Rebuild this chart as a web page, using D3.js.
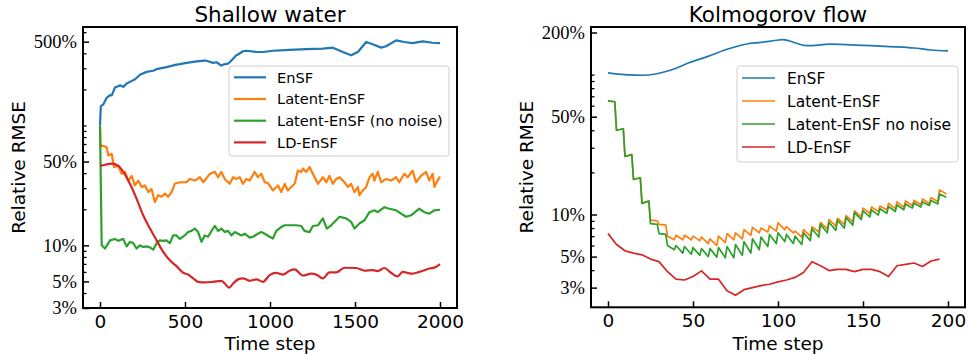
<!DOCTYPE html>
<html>
<head>
<meta charset="utf-8">
<script src="https://cdn.jsdelivr.net/npm/d3@7"></script>
<style>
  body { margin: 0; background: #fff; }
  svg { display: block; }
</style>
</head>
<body>
<div id="chart"></div>
<script>
// ---- data (relative RMSE in %) ----
var colors = ["#1f77b4", "#ff7f0e", "#2ca02c", "#d62728"];

// Shallow water
var swEnsfSteps = [0, 5, 20, 39, 59, 69, 88, 117, 137, 157, 196, 205, 235, 274, 313, 333, 391, 450, 470, 509, 568, 616, 626, 665, 685, 714, 724, 753, 763, 802, 812, 841, 861, 920, 959, 1017, 1115, 1213, 1311, 1370, 1428, 1477, 1517, 1566, 1604, 1654, 1683, 1742, 1790, 1839, 1898, 1956, 2000];
var swEnsfErr = [100, 145, 150, 170, 179, 178, 207, 216, 210, 224, 239, 242, 265, 280, 286, 295, 307, 322, 325, 333, 343, 348, 347, 333, 337, 316, 322, 328, 337, 385, 391, 416, 420, 410, 410, 420, 427, 433, 438, 446, 410, 385, 410, 497, 476, 446, 458, 513, 497, 487, 503, 490, 487];

var swLatentSteps = [0, 3, 10, 39, 49, 69, 82, 108, 127, 147, 166, 186, 205, 225, 245, 264, 284, 303, 323, 342, 362, 382, 401, 421, 440, 470, 509, 528, 558, 587, 607, 646, 675, 695, 714, 734, 763, 783, 802, 822, 841, 861, 881, 910, 929, 949, 969, 988, 1017, 1047, 1066, 1086, 1105, 1125, 1145, 1164, 1184, 1194, 1213, 1233, 1252, 1282, 1311, 1331, 1350, 1370, 1389, 1409, 1438, 1458, 1477, 1497, 1517, 1526, 1546, 1566, 1585, 1605, 1614, 1634, 1654, 1683, 1712, 1742, 1761, 1790, 1810, 1839, 1859, 1888, 1918, 1937, 1957, 1967, 1986, 2000];
var swLatentErr = [100, 66, 68, 66, 56, 58, 45, 46, 39.5, 41, 34.7, 38, 31.6, 34.7, 30.7, 31.6, 27.8, 29.5, 23, 26.2, 25.4, 27, 25.4, 27.8, 32.6, 33.6, 33.6, 35.8, 34.7, 37, 33.6, 39.5, 41, 37, 41, 35.8, 32.6, 37, 35.8, 37, 32.6, 35.8, 34.7, 41, 37, 39.5, 33.6, 33, 28.7, 31.6, 27.8, 32.6, 28.7, 30.7, 32.6, 42, 41, 43.7, 41, 45, 39.5, 32.6, 37, 33.6, 38, 32.6, 35.8, 37, 33.6, 30.7, 32.6, 27.8, 30.7, 26.2, 28.7, 30.7, 37, 39.5, 34.7, 41, 33.6, 35.8, 34.7, 37, 33.6, 39.5, 37, 42, 33.6, 38, 41, 34.7, 39.5, 30.7, 34.7, 37.4];

var swNoNoiseSteps = [0, 10, 29, 59, 88, 108, 127, 137, 157, 176, 196, 215, 235, 254, 274, 294, 313, 333, 352, 372, 391, 411, 430, 450, 470, 499, 518, 538, 558, 577, 597, 616, 636, 656, 675, 695, 714, 734, 753, 773, 793, 812, 832, 851, 881, 900, 929, 949, 969, 998, 1017, 1037, 1066, 1086, 1115, 1155, 1184, 1203, 1233, 1252, 1282, 1311, 1334, 1360, 1389, 1409, 1448, 1477, 1497, 1526, 1556, 1585, 1614, 1634, 1673, 1702, 1742, 1771, 1800, 1830, 1878, 1908, 1937, 1967, 2000];
var swNoNoiseErr = [100, 10.0, 9.4, 11.0, 11.3, 10.9, 11.2, 11.3, 9.8, 10.7, 10.4, 9.4, 10.0, 9.7, 9.8, 9.6, 9.2, 10.4, 11.0, 10.9, 11.0, 10.4, 12.1, 12.1, 11.3, 12.1, 12.9, 13.2, 13.8, 12.9, 10.7, 12.1, 11.8, 13.2, 14.5, 13.2, 13.8, 12.9, 13.2, 12.1, 12.9, 12.5, 12.1, 12.5, 11.6, 11.8, 12.5, 12.9, 12.5, 11.8, 11.4, 13.2, 14.2, 14.7, 14.7, 14.7, 14.5, 13.2, 12.9, 14.5, 14.7, 16.8, 13.8, 14.7, 16.2, 17.3, 16.8, 15.7, 13.8, 15.2, 16.2, 18.9, 19.6, 18.9, 20.8, 20.2, 19.6, 18.4, 17.3, 17.8, 20.2, 18.9, 18.4, 19.6, 19.8];

var swLdSteps = [0, 29, 69, 108, 137, 176, 215, 254, 294, 333, 372, 411, 450, 489, 518, 548, 577, 616, 665, 714, 734, 759, 783, 812, 841, 881, 920, 959, 998, 1037, 1076, 1115, 1145, 1194, 1243, 1272, 1311, 1350, 1389, 1438, 1507, 1556, 1605, 1634, 1673, 1712, 1751, 1780, 1830, 1878, 1937, 1976, 2000];
var swLdErr = [46, 47, 48, 46, 41, 32.6, 24.5, 17.8, 13.8, 11, 8.8, 7.5, 6.7, 5.9, 5.7, 5.3, 4.96, 4.9, 4.96, 5.06, 4.8, 4.43, 4.8, 5.2, 5.3, 5.06, 5.2, 4.96, 5.65, 5.9, 5.7, 6.14, 6.3, 5.6, 5.8, 5.7, 5.3, 5.95, 5.95, 6.5, 6.47, 6.14, 6.2, 6.1, 6.47, 5.9, 5.5, 6.0, 5.8, 6.0, 6.4, 6.6, 6.96];

// Kolmogorov flow
var kfEnsfSteps = [0, 10, 13, 20, 28, 40, 48, 58, 71, 83, 90, 99, 103, 110, 115, 120, 130, 140, 150, 160, 170, 180, 190, 200];
var kfEnsfErr = [103, 100, 99.5, 99, 101, 111, 122, 134, 153, 167, 170, 176, 178, 169, 162, 161, 165, 164, 162, 160, 158, 155, 150, 148];

var kfSawSteps = [0, 4, 5, 9, 10, 14, 15, 19, 20, 24, 25, 29, 30, 34, 35, 39, 40, 44, 45, 49, 50, 54, 55, 59, 60, 64, 65, 69, 70, 74, 75, 79, 80, 84, 85, 89, 90, 94, 95, 99, 100, 104, 105, 109, 110, 114, 115, 119, 120, 124, 125, 129, 130, 134, 135, 139, 140, 144, 145, 149, 150, 154, 155, 159, 160, 164, 165, 169, 170, 174, 175, 179, 180, 184, 185, 189, 190, 194, 195, 199];
var kfLatentErr = [65, 64, 40, 41, 26, 26.8, 17.8, 18.3, 12, 12.5, 9.1, 9.0, 8.5, 8.4, 7.0, 6.6, 7.1, 6.6, 7.1, 6.6, 7.0, 6.5, 6.9, 6.2, 6.7, 6.0, 7.0, 6.3, 7.3, 6.6, 7.4, 6.7, 7.8, 7.1, 8.1, 7.4, 8.0, 7.5, 8.3, 7.6, 8.7, 7.8, 8.2, 7.4, 7.6, 6.9, 7.8, 7.0, 8.2, 7.5, 8.8, 7.9, 9.2, 8.3, 9.4, 8.5, 9.8, 8.9, 10.6, 9.6, 11.1, 10.2, 11.3, 10.5, 11.5, 10.8, 12.0, 11.0, 12.3, 11.3, 12.5, 11.6, 12.6, 11.8, 12.9, 12.0, 13.2, 12.4, 15.0, 14.0];
var kfNoNoiseErr = [65, 64, 40, 41, 26, 26.8, 17.8, 18.3, 12, 12.5, 8.6, 8.5, 7.3, 7.2, 6.0, 5.6, 6.0, 5.3, 5.9, 5.2, 5.8, 5.1, 5.7, 5.0, 5.7, 4.95, 5.8, 4.9, 5.9, 4.9, 6.1, 5.1, 6.4, 5.3, 6.7, 5.6, 6.9, 5.9, 7.2, 6.2, 7.4, 6.4, 7.2, 6.2, 7.0, 6.1, 7.4, 6.5, 7.9, 6.9, 8.5, 7.4, 8.8, 7.7, 9.1, 8.0, 9.5, 8.4, 10.3, 9.2, 10.6, 9.6, 10.8, 9.9, 11.0, 10.2, 11.4, 10.5, 11.7, 10.8, 11.9, 11.1, 12.1, 11.3, 12.3, 11.6, 12.6, 11.9, 14.0, 13.3];

var kfLdSteps = [0, 5, 10, 15, 20, 25, 30, 35, 40, 45, 50, 55, 60, 65, 70, 75, 80, 85, 90, 95, 100, 105, 110, 115, 120, 125, 130, 135, 140, 145, 150, 155, 160, 165, 170, 175, 180, 185, 190, 195];
var kfLdErr = [7.3, 6.1, 5.5, 5.3, 5.15, 4.8, 4.6, 3.9, 3.45, 3.4, 3.6, 3.95, 3.45, 3.45, 2.85, 2.65, 2.9, 3.0, 3.1, 3.17, 3.3, 3.4, 3.55, 3.85, 4.6, 4.3, 3.97, 4.05, 4.05, 3.9, 4.05, 4.05, 3.9, 3.6, 4.3, 4.4, 4.5, 4.25, 4.65, 4.8];

var swLabels = ["EnSF", "Latent-EnSF", "Latent-EnSF (no noise)", "LD-EnSF"];
var kfLabels = ["EnSF", "Latent-EnSF", "Latent-EnSF no noise", "LD-EnSF"];
var swXTicks = [0, 500, 1000, 1500, 2000];
var kfXTicks = [0, 50, 100, 150, 200];
var swYTicks = [3, 5, 10, 50, 500];
var kfYTicks = [3, 5, 10, 50, 200];

function zip(xs, ys) {
    return xs.map(function (x, i) { return { x: x, y: ys[i] }; });
}

var svg = d3.select("#chart").append("svg")
    .attr("width", 968)
    .attr("height", 354);

function drawPanel(p) {
    var g = svg.append("g");
    var x = d3.scaleLinear().domain(p.xDomain).range([p.left, p.right]);
    var y = d3.scaleLog().domain(p.yDomain).range([p.bottom, p.top]);

    var clipId = "clip" + p.left;
    svg.append("clipPath").attr("id", clipId).append("rect")
        .attr("x", p.left).attr("y", p.top)
        .attr("width", p.right - p.left).attr("height", p.bottom - p.top);

    var line = d3.line()
        .x(function (d) { return x(d.x); })
        .y(function (d) { return y(d.y); });

    var lines = g.append("g").attr("clip-path", "url(#" + clipId + ")");
    p.series.forEach(function (s, i) {
        lines.append("path")
            .datum(s.data)
            .attr("fill", "none")
            .attr("stroke", colors[i])
            .attr("stroke-width", p.lw)
            .attr("stroke-linejoin", "round")
            .attr("d", s.smooth ? line.curve(d3.curveMonotoneX)(s.data) : line.curve(d3.curveLinear)(s.data));
    });

    // minor y ticks
    var minor = y.ticks().filter(function (t) { return p.yTicks.indexOf(t) < 0; });
    g.append("g")
        .attr("transform", "translate(" + p.left + ",0)")
        .call(d3.axisLeft(y).tickValues(minor).tickSize(-3.5).tickFormat(""))
        .call(function (a) { a.select(".domain").remove(); })
        .selectAll("line").attr("stroke", "#000").attr("stroke-width", 1.3);

    // major y ticks
    var ya = g.append("g")
        .attr("transform", "translate(" + p.left + ",0)")
        .call(d3.axisLeft(y).tickValues(p.yTicks).tickSize(-6).tickPadding(6)
            .tickFormat(function (d) { return d + "%"; }));
    ya.select(".domain").remove();
    ya.selectAll("line").attr("stroke", "#000").attr("stroke-width", 1.5);
    ya.selectAll("text")
        .attr("font-family", "'Liberation Serif', 'Times New Roman', serif")
        .attr("font-size", 18.5)
        .attr("fill", "#000");

    // x ticks
    var xa = g.append("g")
        .attr("transform", "translate(0," + p.bottom + ")")
        .call(d3.axisBottom(x).tickValues(p.xTicks).tickSize(-6).tickPadding(7)
            .tickFormat(d3.format("d")));
    xa.select(".domain").remove();
    xa.selectAll("line").attr("stroke", "#000").attr("stroke-width", 1.5);
    xa.selectAll("text")
        .attr("font-family", "'DejaVu Sans', sans-serif")
        .attr("font-size", 18.5)
        .attr("fill", "#000");

    // frame
    g.append("rect")
        .attr("x", p.left).attr("y", p.top)
        .attr("width", p.right - p.left).attr("height", p.bottom - p.top)
        .attr("fill", "none").attr("stroke", "#000").attr("stroke-width", 2);

    var cx = (p.left + p.right) / 2;
    g.append("text")
        .attr("x", cx).attr("y", 22)
        .attr("text-anchor", "middle")
        .attr("font-family", "'DejaVu Sans', sans-serif")
        .attr("font-size", 21.5)
        .text(p.title);

    g.append("text")
        .attr("x", cx).attr("y", 349.5)
        .attr("text-anchor", "middle")
        .attr("font-family", "'DejaVu Sans', sans-serif")
        .attr("font-size", 18.5)
        .text("Time step");

    g.append("text")
        .attr("transform", "translate(" + p.ylabelX + "," + ((p.top + p.bottom) / 2) + ") rotate(-90)")
        .attr("text-anchor", "middle")
        .attr("font-family", "'DejaVu Sans', sans-serif")
        .attr("font-size", 18.5)
        .text("Relative RMSE");

    // legend
    var L = p.legend;
    var lg = g.append("g");
    lg.append("rect")
        .attr("x", L.x).attr("y", L.y).attr("width", L.w).attr("height", L.h)
        .attr("rx", 3)
        .attr("fill", "#fff").attr("fill-opacity", 0.8)
        .attr("stroke", "#d0d0d0").attr("stroke-width", 1);
    p.labels.forEach(function (lab, i) {
        var ry = L.row0 + i * L.step;
        lg.append("line")
            .attr("x1", L.x + 5).attr("x2", L.x + 5 + L.handle)
            .attr("y1", ry).attr("y2", ry)
            .attr("stroke", colors[i]).attr("stroke-width", p.lw);
        lg.append("text")
            .attr("x", L.textX).attr("y", ry)
            .attr("dy", "0.36em")
            .attr("font-family", "'DejaVu Sans', sans-serif")
            .attr("font-size", L.fs)
            .text(lab);
    });
}

drawPanel({
    title: "Shallow water",
    left: 83, right: 457, top: 27, bottom: 308,
    xDomain: [-100, 2100], yDomain: [3, 663],
    xTicks: swXTicks, yTicks: swYTicks, ylabelX: 24.5, lw: 2.2,
    labels: swLabels,
    legend: { x: 229, y: 66, w: 220, h: 90, row0: 77.3, step: 21.7, handle: 32, textX: 277, fs: 14.6 },
    series: [
        { data: zip(swEnsfSteps, swEnsfErr) },
        { data: zip(swLatentSteps, swLatentErr) },
        { data: zip(swNoNoiseSteps, swNoNoiseErr) },
        { data: zip(swLdSteps, swLdErr), smooth: true }
    ]
});

drawPanel({
    title: "Kolmogorov flow",
    left: 591, right: 965, top: 27, bottom: 307.3,
    xDomain: [-10, 210], yDomain: [2.17, 219],
    xTicks: kfXTicks, yTicks: kfYTicks, ylabelX: 532.5, lw: 1.7,
    labels: kfLabels,
    legend: { x: 737, y: 66, w: 221, h: 96, row0: 78, step: 23, handle: 33, textX: 787, fs: 15.5 },
    series: [
        { data: zip(kfEnsfSteps, kfEnsfErr), smooth: true },
        { data: zip(kfSawSteps, kfLatentErr) },
        { data: zip(kfSawSteps, kfNoNoiseErr) },
        { data: zip(kfLdSteps, kfLdErr) }
    ]
});
</script>
</body>
</html>
